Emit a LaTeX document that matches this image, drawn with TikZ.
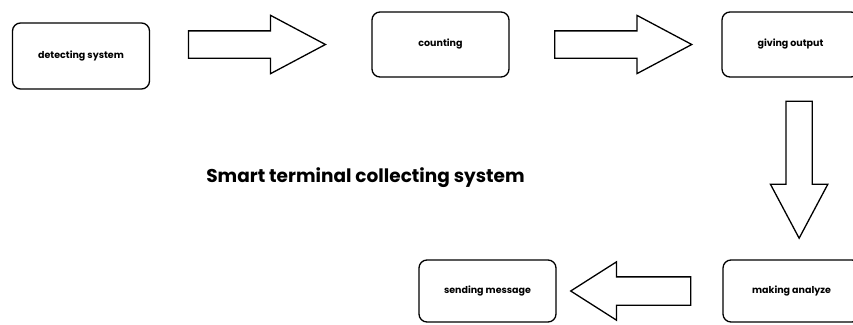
\documentclass[tikz,border=0pt]{standalone}
\usepackage{fontspec}
\setmainfont{Poppins}
\usetikzlibrary{shapes.arrows}

\tikzset{
  stage/.style={draw, line width=1.3pt, rounded corners=8pt, inner sep=0pt,
    minimum width=137pt, minimum height=65pt, font=\fontsize{9.5}{11}\selectfont\bfseries},
  bigarrow/.style={draw, line width=1.3pt, single arrow, anchor=tail,
    inner xsep=0pt, inner ysep=13pt,
    single arrow head extend=15.5pt, minimum height=137pt,
    single arrow tip angle=56},
}

\begin{document}
\begin{tikzpicture}[x=1pt, y=-1pt]
			\useasboundingbox (0,0) rectangle (853,324);
			\clip (0,0) rectangle (853,324);

			% top row
			\node[stage, minimum height=66pt] (detect) at (81,56) {detecting system};
			\node[stage] (count) at (440.5,44.5) {counting};
			\node[stage] (output) at (790.5,44.5) {giving output};

			% bottom row
			\node[stage, minimum height=62pt] (analyze) at (791.5,291) {making analyze};
			\node[stage, minimum height=62pt] (message) at (487.5,291) {sending message};

			% title
			\node[font=\fontsize{18.5}{22}\selectfont\bfseries] (title) at (365.5,178) {Smart terminal collecting system};

			% block arrows
			\path (detect.east |- count.west) -- (count.west)
				node[bigarrow, pos=0.17] (a1) {};
			\path (count.east) -- (output.west)
				node[bigarrow, pos=0.21] (a2) {};
			\path (output.south) -- (analyze.north)
				node[bigarrow, pos=0.126, xshift=8.5pt, inner xsep=12.5pt, inner ysep=0pt,
				shape border rotate=270] (a3) {};
			\path (analyze.west) -- (message.east)
				node[bigarrow, pos=0.187, minimum height=120pt, inner ysep=13.5pt,
				single arrow head extend=15pt, single arrow tip angle=65,
				shape border rotate=180] (a4) {};
\end{tikzpicture}
\end{document}
